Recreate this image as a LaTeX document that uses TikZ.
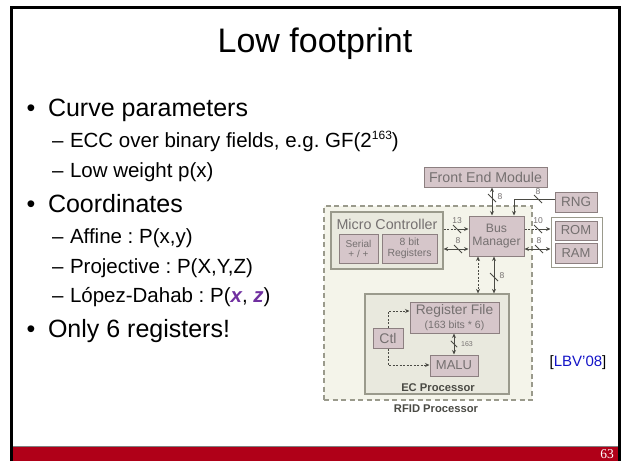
\documentclass[tikz,border=0pt]{standalone}
\usepackage{fontspec}
\setmainfont{Liberation Sans}
\newfontfamily\serifnum{Liberation Serif}
\usetikzlibrary{arrows.meta,calc}
\definecolor{slidered}{HTML}{B00018}
\definecolor{mauve}{HTML}{D6C6CA}
\definecolor{mauveline}{HTML}{8C7F80}
\definecolor{beige}{HTML}{F4F4EA}
\definecolor{panel}{HTML}{E9E9DE}
\definecolor{panelline}{HTML}{9A9A8C}
\definecolor{dimtext}{HTML}{757070}
\definecolor{wirecol}{HTML}{4A4A44}
\definecolor{violetx}{HTML}{7030A0}
\definecolor{refblue}{HTML}{1414C8}
\newcommand{\fs}[1]{\fontsize{#1}{#1}\selectfont}
\frenchspacing
\tikzset{
  x=1pt,y=-1pt,
  txt/.style={anchor=base west,inner sep=0pt,outer sep=0pt,text=black},
  bul/.style={txt,font=\fs{25}},
  sub/.style={txt,font=\fs{20.5}},
  blockbox/.style={draw=mauveline,fill=mauve,line width=1pt,inner sep=0pt,text=dimtext,align=center},
  panelbox/.style={draw=panelline,fill=panel,line width=1.2pt,inner sep=0pt},
  wire/.style={draw=wirecol,line width=.8pt},
  dwire/.style={wire,dash pattern=on 2pt off 1.5pt},
  oneway/.style={-{Stealth[length=4.5pt,width=4pt]}},
  twoway/.style={{Stealth[length=4.5pt,width=4pt]}-{Stealth[length=4.5pt,width=4pt]}},
  bw/.style={font=\fs{8.5},text=dimtext,inner sep=0pt},
  captxt/.style={font=\bfseries\fs{11.2},text=wirecol,inner sep=0pt},
  tk/.pic={\draw[wire] (-4,-4) -- (4,4);}
}
\newcommand{\boxat}[6]{\node[#1,minimum width=#4-#3,minimum height=#6-#5] (#2) at ({(#3+#4)/2},{(#5+#6)/2})}
\begin{document}
\frenchspacing
\begin{tikzpicture}
\useasboundingbox (0,0) rectangle (623,461);
\fill[white] (0,0) rectangle (623,461);
% slide frame
\fill[slidered] (13,447) rectangle (618,461);
\draw[gray,line width=.8pt] (13,446.6) -- (618,446.6);
\draw[black,line width=2.6pt] (11.3,461) -- (11.3,7.5) -- (619.7,7.5) -- (619.7,461);
% texts
\node[anchor=base,inner sep=0pt,font=\fs{34}] (title) at (315,52) {Low footprint};
\node[txt,font=\fs{25}] (b1d) at (26.5,116.5) {•};
\node[bul] (b1) at (48,116.5) {Curve parameters};
\node[sub] (s1d) at (52,147) {–};
\node[sub] (s1) at (70,147) {ECC over binary fields, e.g. GF(2\raisebox{7.5pt}{\fs{12}163})};
\node[sub] (s2d) at (52,177.5) {–};
\node[sub] (s2) at (70,177.5) {Low weight p(x)};
\node[txt,font=\fs{25}] (b2d) at (26.5,212) {•};
\node[bul] (b2) at (48,212) {Coordinates};
\node[sub] (s3d) at (52,243) {–};
\node[sub] (s3) at (70,243) {Affine : P(x,y)};
\node[sub] (s4d) at (52,273) {–};
\node[sub] (s4) at (70,273) {Projective : P(X,Y,Z)};
\node[sub] (s5d) at (52,302) {–};
\node[sub] (s5) at (70,302) {López-Dahab : P(\textcolor{violetx}{\bfseries\itshape x}, \textcolor{violetx}{\bfseries\itshape z})};
\node[txt,font=\fs{25}] (b3d) at (26.5,337) {•};
\node[bul] (b3) at (48,337) {Only 6 registers!};
\node[anchor=base,inner sep=0pt,font=\fs{15}] (ref) at (578,366) {[\textcolor{refblue}{LBV'08}]};
\node[anchor=base east,inner sep=0pt,text=white,font=\serifnum\fs{13.5}] (num) at (614,458) {63};
% diagram panels
\boxat{draw=panelline,fill=beige,line width=1.1pt,dash pattern=on 5pt off 3.5pt,inner sep=0pt}{rfid}{324}{532}{206}{400} {};
\boxat{panelbox}{mc}{331}{443}{212}{269} {};
\boxat{panelbox}{ec}{365}{509}{294}{394} {};
\boxat{draw=panelline,fill=white,line width=1pt,inner sep=0pt}{mem}{551}{602}{217}{267} {};
% blocks
\boxat{blockbox,font=\fs{14.2}}{fem}{424}{547}{167}{187} {Front End Module};
\boxat{blockbox,font=\fs{13.5}}{rng}{555}{597}{192}{212} {RNG};
\boxat{blockbox,font=\fs{13}}{rom}{555}{597}{221}{240} {ROM};
\boxat{blockbox,font=\fs{13}}{ram}{555}{597}{243}{263} {RAM};
\boxat{blockbox,font=\fs{12.2}}{bus}{469}{524}{216}{256} {Bus\\[1pt]Manager};
\boxat{blockbox,font=\fs{10}}{serial}{339}{378}{234}{263} {Serial\\[0pt]+ / +};
\boxat{blockbox,font=\fs{10.4}}{regs}{382}{437}{234}{263} {8 bit\\[0pt]Registers};
\boxat{blockbox,font=\fs{13.8}}{rf}{410}{499}{302}{333} {Register File\\[0pt]{\fs{10.5}(163 bits * 6)}};
\boxat{blockbox,font=\fs{14}}{ctl}{373}{403}{328}{348} {Ctl};
\boxat{blockbox,font=\fs{13}}{malu}{430}{478}{355}{376} {MALU};
\node[inner sep=0pt,anchor=base,font=\fs{14.3},text=dimtext] (mct) at (387,229) {Micro Controller};
\node[captxt,anchor=base] (ect) at (438,391) {EC Processor};
\node[captxt,anchor=base] (rft) at (436,412) {RFID Processor};
% track coordinates
\coordinate (r13) at (457,229);
\coordinate (r8a) at (458,249);
\coordinate (r10) at (538,229);
\coordinate (r8b) at (539,249);
\coordinate (vfem) at (492,198);
\coordinate (vrng) at (514,199);
\coordinate (trng) at (538,199);
\coordinate (vd) at (478,275);
\coordinate (vs) at (494,277);
\coordinate (vm) at (454,344);
\coordinate (vc) at (388,338);
\coordinate (yrf) at (410,311);
\coordinate (ymalu) at (430,365);
% connectors
\draw[dwire] (mc.east |- r13) -- (r13);
\draw[wire,oneway] (r13) -- (bus.west |- r13);
\pic at (r13) {tk};
\draw[wire,twoway] (mc.east |- r8a) -- (bus.west |- r8a);
\pic at (r8a) {tk};
\draw[dwire] (bus.east |- r10) -- (r10);
\draw[wire,oneway] (r10) -- (mem.west |- r10);
\pic at (r10) {tk};
\draw[wire,twoway] (bus.east |- r8b) -- (mem.west |- r8b);
\pic at (r8b) {tk};
\draw[wire,twoway] (fem.south -| vfem) -- (bus.north -| vfem);
\pic at (vfem) {tk};
\draw[wire,oneway] (rng.west |- vrng) -- (vrng) -- (bus.north -| vrng);
\pic at (trng) {tk};
\draw[dwire,twoway] (bus.south -| vd) -- (ec.north -| vd);
\draw[wire,twoway] (bus.south -| vs) -- (ec.north -| vs);
\pic at (vs) {tk};
\draw[dwire,oneway] (ctl.north -| vc) |- (rf.west |- yrf);
\draw[dwire,oneway] (ctl.south -| vc) |- (malu.west |- ymalu);
\draw[wire,twoway] (rf.south -| vm) -- (malu.north -| vm);
\pic[scale=.8] at (vm) {tk};
% width labels
\node[bw] (l13) at (457,220.5) {13};
\node[bw] (l8a) at (458,240.5) {8};
\node[bw] (l10) at (538,220.5) {10};
\node[bw] (l8b) at (539,240.5) {8};
\node[bw] (l8c) at (500,197) {8};
\node[bw] (l8d) at (538,192) {8};
\node[bw] (l8e) at (502,276) {8};
\node[bw,font=\fs{7}] (l163) at (467,344) {163};
\end{tikzpicture}
\end{document}
